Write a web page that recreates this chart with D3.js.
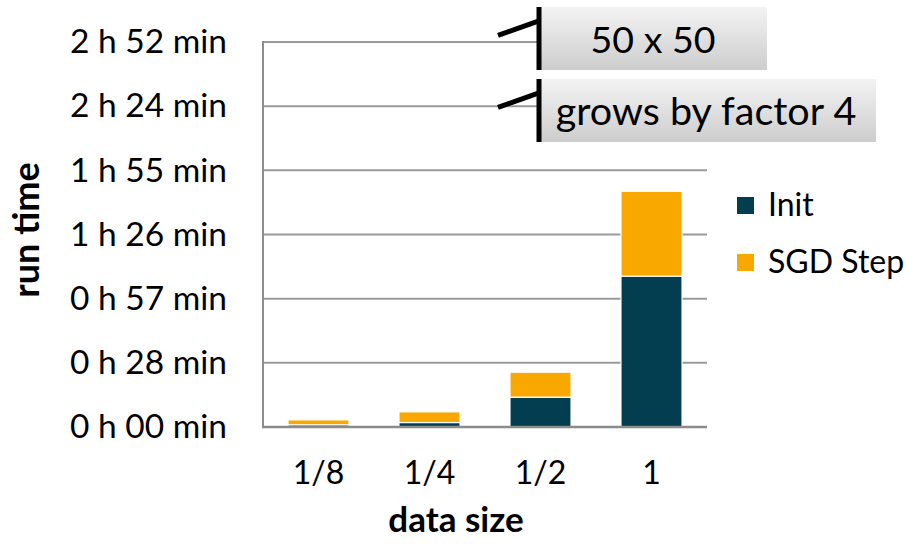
<!DOCTYPE html>
<html>
<head>
<meta charset="utf-8">
<script src="https://cdn.jsdelivr.net/npm/d3@7"></script>
<style>
  html, body { margin: 0; padding: 0; background: #fff; }
  svg { display: block; font-family: Lato, "Open Sans", sans-serif; }
</style>
</head>
<body>
<svg id="chart" width="907" height="545"></svg>
<script>
// Run time (minutes) per data size, split into initialisation and SGD steps
const categories = ["1/8", "1/4", "1/2", "1"];
const initMinutes = [1.0, 2.0, 13.4, 67.7];
const sgdMinutes = [2.2, 4.8, 11.2, 38.1];
const seriesNames = ["Init", "SGD Step"];
const seriesColors = ["#033e50", "#f9a800"];
// Axis ticks every 0.02 days (28.8 minutes)
const tickValues = [0, 28.8, 57.6, 86.4, 115.2, 144, 172.8];
const tickLabels = ["0 h 00 min", "0 h 28 min", "0 h 57 min", "1 h 26 min", "1 h 55 min", "2 h 24 min", "2 h 52 min"];
const notes = ["50 x 50", "grows by factor 4"];

const svg = d3.select("#chart");
const plot = { left: 263, right: 707, top: 42, bottom: 427 };

const x = d3.scaleBand()
  .domain(categories)
  .range([plot.left, plot.right])
  .paddingInner(0.45)
  .paddingOuter(0.225);

const y = d3.scaleLinear()
  .domain([0, 172.8])
  .range([plot.bottom, plot.top]);

// gradient for the note boxes
const defs = svg.append("defs");
const grad = defs.append("linearGradient")
  .attr("id", "noteFill").attr("x1", 0).attr("y1", 0).attr("x2", 0).attr("y2", 1);
grad.append("stop").attr("offset", "0%").attr("stop-color", "#f3f3f3");
grad.append("stop").attr("offset", "100%").attr("stop-color", "#cdcdcd");

// horizontal gridlines
svg.append("g")
  .selectAll("line")
  .data(tickValues.slice(1))
  .join("line")
  .attr("x1", plot.left).attr("x2", plot.right)
  .attr("y1", d => y(d)).attr("y2", d => y(d))
  .attr("stroke", "#9a9a9a").attr("stroke-width", 2);

// y tick labels
const yAxis = d3.axisLeft(y)
  .tickValues(tickValues)
  .tickFormat((d, i) => tickLabels[i])
  .tickSize(0)
  .tickPadding(36);
svg.append("g")
  .attr("transform", `translate(${plot.left},0)`)
  .call(yAxis)
  .call(g => g.select(".domain").remove())
  .call(g => g.selectAll("text")
    .attr("font-family", "Lato, sans-serif")
    .attr("font-size", 33.5)
    .attr("fill", "#000"));

// stacked bars
const rows = categories.map((c, i) => ({ cat: c, Init: initMinutes[i], "SGD Step": sgdMinutes[i] }));
const stack = d3.stack().keys(seriesNames)(rows);

svg.append("g")
  .selectAll("g")
  .data(stack)
  .join("g")
  .attr("fill", (d, i) => seriesColors[i])
  .selectAll("rect")
  .data(d => d)
  .join("rect")
  .attr("x", d => x(d.data.cat))
  .attr("width", x.bandwidth())
  .attr("y", d => y(d[1]))
  .attr("height", d => y(d[0]) - y(d[1]))
  .attr("stroke", "#fff")
  .attr("stroke-width", 1.2);

// axis lines
svg.append("line")
  .attr("x1", plot.left).attr("x2", plot.left)
  .attr("y1", plot.top - 1).attr("y2", plot.bottom + 1)
  .attr("stroke", "#8c8c8c").attr("stroke-width", 2);
svg.append("line")
  .attr("x1", plot.left - 1).attr("x2", plot.right)
  .attr("y1", plot.bottom).attr("y2", plot.bottom)
  .attr("stroke", "#8c8c8c").attr("stroke-width", 2.5);

// x tick labels
const xAxis = d3.axisBottom(x).tickSize(0).tickPadding(34);
svg.append("g")
  .attr("transform", `translate(0,${plot.bottom})`)
  .call(xAxis)
  .call(g => g.select(".domain").remove())
  .call(g => g.selectAll("text")
    .attr("font-family", "Lato, sans-serif")
    .attr("font-size", 32)
    .attr("fill", "#000"));

// axis titles
svg.append("text")
  .attr("x", 456).attr("y", 532)
  .attr("text-anchor", "middle")
  .attr("font-size", 35).attr("font-weight", "bold")
  .text("data size");
svg.append("text")
  .attr("transform", "translate(39,230) rotate(-90)")
  .attr("text-anchor", "middle")
  .attr("font-size", 36).attr("font-weight", "bold")
  .text("run time");

// legend
const legend = svg.append("g").attr("transform", "translate(737,0)");
const legendY = [205, 262];
seriesNames.forEach((name, i) => {
  legend.append("rect")
    .attr("x", 0).attr("y", legendY[i] - 8)
    .attr("width", 17).attr("height", 17)
    .attr("fill", seriesColors[i]);
  legend.append("text")
    .attr("x", 31).attr("y", legendY[i])
    .attr("dy", "0.35em")
    .attr("font-size", 32)
    .text(name);
});

// note boxes with break marks
const noteBoxes = [
  { x: 539, y: 7, w: 228, h: 63, text: notes[0], tx: 653, ty: 53, size: 37.5 },
  { x: 539, y: 79, w: 337, h: 63, text: notes[1], tx: 706, ty: 125, size: 39.5 }
];
const notesG = svg.append("g");
noteBoxes.forEach(b => {
  notesG.append("rect")
    .attr("x", b.x).attr("y", b.y).attr("width", b.w).attr("height", b.h)
    .attr("fill", "url(#noteFill)");
  notesG.append("text")
    .attr("x", b.tx).attr("y", b.ty)
    .attr("text-anchor", "middle")
    .attr("font-size", b.size)
    .text(b.text);
  notesG.append("line")
    .attr("x1", b.x).attr("x2", b.x)
    .attr("y1", b.y).attr("y2", b.y + b.h)
    .attr("stroke", "#000").attr("stroke-width", 5);
  notesG.append("line")
    .attr("x1", 498).attr("y1", b.y + b.h * 0.45)
    .attr("x2", b.x).attr("y2", b.y + b.h * 0.22)
    .attr("stroke", "#000").attr("stroke-width", 5);
});
</script>
</body>
</html>
